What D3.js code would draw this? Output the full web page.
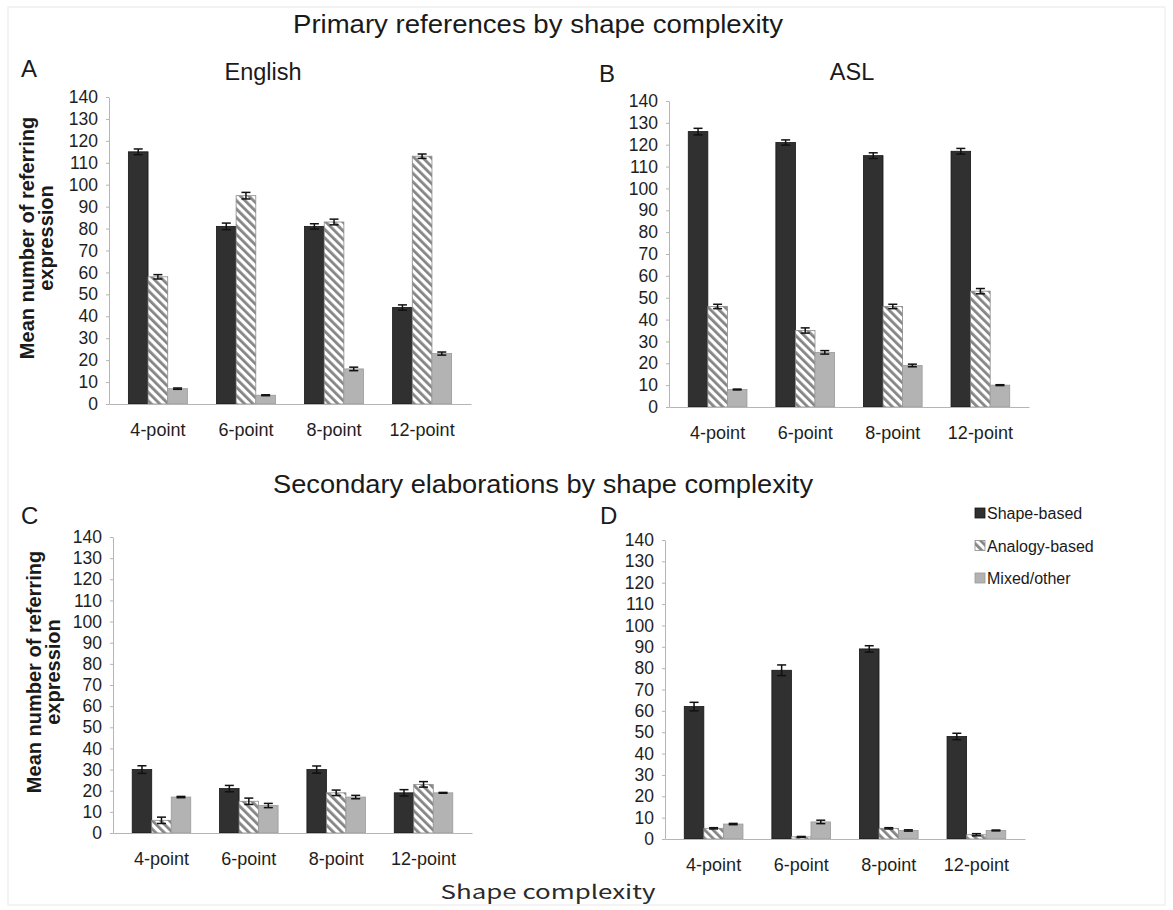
<!DOCTYPE html>
<html>
<head>
<meta charset="utf-8">
<script src="https://cdn.jsdelivr.net/npm/d3@7"></script>
<style>
  body { margin: 0; background: #fff; }
  svg { display: block; font-family: Arial, "Liberation Sans", sans-serif; }
</style>
</head>
<body>
<svg id="chart" width="1173" height="910"></svg>
<script>
// ---- data ----
const categories = ['4-point', '6-point', '8-point', '12-point'];
const seriesNames = ['Shape-based', 'Analogy-based', 'Mixed/other'];
const yTicks = [0, 10, 20, 30, 40, 50, 60, 70, 80, 90, 100, 110, 120, 130, 140];

// A - English, primary references
const englishShape   = [115, 81, 81, 44];
const englishAnalogy = [58, 95, 83, 113];
const englishMixed   = [7, 4, 16, 23];
const englishShapeErr   = [1.3, 1.5, 1.2, 1.2];
const englishAnalogyErr = [1.0, 1.5, 1.3, 1.0];
const englishMixedErr   = [0.3, 0.2, 0.8, 0.7];

// B - ASL, primary references
const aslShape   = [126, 121, 115, 117];
const aslAnalogy = [46, 35, 46, 53];
const aslMixed   = [8, 25, 19, 10];
const aslShapeErr   = [1.5, 1.2, 1.3, 1.3];
const aslAnalogyErr = [1.0, 1.2, 1.0, 1.2];
const aslMixedErr   = [0.2, 0.8, 0.6, 0.2];

// C - English, secondary elaborations
const engSecShape   = [30, 21, 30, 19];
const engSecAnalogy = [6, 15, 19, 23];
const engSecMixed   = [17, 13, 17, 19];
const engSecShapeErr   = [1.8, 1.5, 1.7, 1.5];
const engSecAnalogyErr = [1.5, 1.5, 1.3, 1.3];
const engSecMixedErr   = [0.3, 1.0, 0.8, 0.2];

// D - ASL, secondary elaborations
const aslSecShape   = [62, 79, 89, 48];
const aslSecAnalogy = [5, 1, 5, 2];
const aslSecMixed   = [7, 8, 4, 4];
const aslSecShapeErr   = [2.0, 2.5, 1.5, 1.5];
const aslSecAnalogyErr = [0.3, 0.2, 0.3, 0.5];
const aslSecMixedErr   = [0.3, 0.8, 0.3, 0.2];

// ---- styles ----
const fills   = ['#303030', 'url(#hatch)', '#b3b3b3'];
const strokes = ['#151515', '#8a8a8a', '#9a9a9a'];

const svg = d3.select('#chart');

// faint frame round the figure
svg.append('rect')
  .attr('x', 8).attr('y', 7).attr('width', 1157).attr('height', 898)
  .attr('fill', 'none').attr('stroke', '#e8e8e8');

const defs = svg.append('defs');
const hatch = defs.append('pattern')
  .attr('id', 'hatch')
  .attr('patternUnits', 'userSpaceOnUse')
  .attr('width', 6).attr('height', 6)
  .attr('patternTransform', 'rotate(-45)');
hatch.append('rect').attr('width', 6).attr('height', 6).attr('fill', '#fff');
hatch.append('rect').attr('width', 2.8).attr('height', 6).attr('fill', '#858585');

// panel frames (pixel layout)
const panels = [
  { letter: 'A', lx: 21, ly: 77, sub: 'English', sx: 263, sy: 80,
    x0: 109, x1: 471, yTop: 97, yBot: 404,
    means: [englishShape, englishAnalogy, englishMixed],
    errs: [englishShapeErr, englishAnalogyErr, englishMixedErr],
    yTitle: { cy: 238, b1: 34, b2: 53 } },
  { letter: 'B', lx: 599, ly: 82, sub: 'ASL', sx: 852, sy: 80,
    x0: 669, x1: 1029, yTop: 101, yBot: 407,
    means: [aslShape, aslAnalogy, aslMixed],
    errs: [aslShapeErr, aslAnalogyErr, aslMixedErr] },
  { letter: 'C', lx: 21, ly: 524,
    x0: 113, x1: 472, yTop: 537, yBot: 833,
    means: [engSecShape, engSecAnalogy, engSecMixed],
    errs: [engSecShapeErr, engSecAnalogyErr, engSecMixedErr],
    yTitle: { cy: 672, b1: 41, b2: 60 } },
  { letter: 'D', lx: 600, ly: 524,
    x0: 665, x1: 1025, yTop: 540, yBot: 839,
    means: [aslSecShape, aslSecAnalogy, aslSecMixed],
    errs: [aslSecShapeErr, aslSecAnalogyErr, aslSecMixedErr],
    legend: true }
];

function drawPanel(p) {
  const g = svg.append('g');

  const x = d3.scaleBand().domain(categories)
    .range([p.x0, p.x1]).paddingInner(0.33).paddingOuter(0.22);
  const xs = d3.scaleBand().domain(d3.range(seriesNames.length))
    .range([0, x.bandwidth()]);
  const y = d3.scaleLinear().domain([0, 140]).range([p.yBot, p.yTop]);

  // y axis
  const ya = g.append('g')
    .attr('transform', `translate(${p.x0},0)`)
    .call(d3.axisLeft(y).tickValues(yTicks).tickSize(3).tickSizeOuter(0).tickPadding(8));
  ya.select('.domain').attr('stroke', '#b5b5b5');
  ya.selectAll('.tick line').attr('stroke', '#b5b5b5');
  ya.selectAll('.tick text')
    .attr('font-size', 17.5).attr('fill', '#1e1e1e')
    .attr('font-family', 'Arial, "Liberation Sans", sans-serif');

  // bars
  const rows = [];
  p.means.forEach((vals, s) => vals.forEach((v, i) => {
    rows.push({ s: s, cat: categories[i], v: v, e: p.errs[s][i] });
  }));

  g.selectAll('rect.bar').data(rows).join('rect')
    .attr('class', 'bar')
    .attr('x', d => x(d.cat) + xs(d.s))
    .attr('y', d => y(d.v))
    .attr('width', xs.bandwidth())
    .attr('height', d => y(0) - y(d.v))
    .attr('fill', d => fills[d.s])
    .attr('stroke', d => strokes[d.s])
    .attr('stroke-width', 0.8);

  // x axis (drawn on top of bar bases)
  const xa = g.append('g')
    .attr('transform', `translate(0,${p.yBot})`)
    .call(d3.axisBottom(x).tickSize(0).tickSizeOuter(0).tickPadding(19));
  xa.select('.domain').attr('stroke', '#b5b5b5');
  xa.selectAll('.tick text')
    .attr('font-size', 18).attr('fill', '#1e1e1e')
    .attr('font-family', 'Arial, "Liberation Sans", sans-serif');

  // error bars
  const eb = g.selectAll('g.err').data(rows).join('g').attr('class', 'err')
    .attr('transform', d => `translate(${x(d.cat) + xs(d.s) + xs.bandwidth() / 2},0)`);
  eb.append('line')
    .attr('y1', d => y(d.v - d.e)).attr('y2', d => y(d.v + d.e))
    .attr('stroke', '#111').attr('stroke-width', 1.5);
  eb.append('line')
    .attr('x1', -4.5).attr('x2', 4.5)
    .attr('y1', d => y(d.v + d.e)).attr('y2', d => y(d.v + d.e))
    .attr('stroke', '#111').attr('stroke-width', 1.5);
  eb.append('line')
    .attr('x1', -4.5).attr('x2', 4.5)
    .attr('y1', d => y(d.v - d.e)).attr('y2', d => y(d.v - d.e))
    .attr('stroke', '#111').attr('stroke-width', 1.5);

  // panel letter and subtitle
  g.append('text').attr('x', p.lx).attr('y', p.ly)
    .attr('font-size', 24).attr('fill', '#1a1a1a').text(p.letter);
  if (p.sub) {
    g.append('text').attr('x', p.sx).attr('y', p.sy)
      .attr('text-anchor', 'middle')
      .attr('font-size', 23.5).attr('fill', '#1a1a1a').text(p.sub);
  }

  // y title
  if (p.yTitle) {
    const t = p.yTitle;
    g.append('text')
      .attr('transform', `translate(${t.b1},${t.cy}) rotate(-90)`)
      .attr('text-anchor', 'middle').attr('font-weight', 'bold')
      .attr('font-size', 20).attr('fill', '#1a1a1a')
      .text('Mean number of referring');
    g.append('text')
      .attr('transform', `translate(${t.b2},${t.cy}) rotate(-90)`)
      .attr('text-anchor', 'middle').attr('font-weight', 'bold')
      .attr('font-size', 20).attr('fill', '#1a1a1a')
      .text('expression');
  }

  // legend
  if (p.legend) {
    const lg = g.append('g').attr('transform', 'translate(975,0)');
    const ly = d3.scalePoint().domain(seriesNames).range([513, 578]);
    const item = lg.selectAll('g').data(seriesNames).join('g')
      .attr('transform', d => `translate(0,${ly(d)})`);
    item.append('rect')
      .attr('x', 0).attr('y', -5).attr('width', 10).attr('height', 10)
      .attr('fill', (d, i) => fills[i])
      .attr('stroke', (d, i) => strokes[i]).attr('stroke-width', 0.8);
    item.append('text')
      .attr('x', 12).attr('y', 6)
      .attr('font-size', 16).attr('fill', '#1a1a1a')
      .text(d => d);
  }
}

panels.forEach(drawPanel);

// section titles
svg.append('text')
  .attr('x', 538).attr('y', 33).attr('text-anchor', 'middle')
  .attr('font-size', 25).attr('fill', '#1a1a1a')
  .attr('textLength', 490).attr('lengthAdjust', 'spacingAndGlyphs')
  .text('Primary references by shape complexity');
svg.append('text')
  .attr('x', 543).attr('y', 493).attr('text-anchor', 'middle')
  .attr('font-size', 25).attr('fill', '#1a1a1a')
  .attr('textLength', 540).attr('lengthAdjust', 'spacingAndGlyphs')
  .text('Secondary elaborations by shape complexity');

// shared x title
svg.append('text')
  .attr('x', 548).attr('y', 899).attr('text-anchor', 'middle')
  .attr('font-size', 19).attr('fill', '#2a2a2a')
  .attr('font-family', '"Noto Sans CJK KR", "Noto Sans", sans-serif')
  .attr('textLength', 215).attr('lengthAdjust', 'spacingAndGlyphs')
  .text('Shape complexity');
</script>
</body>
</html>
